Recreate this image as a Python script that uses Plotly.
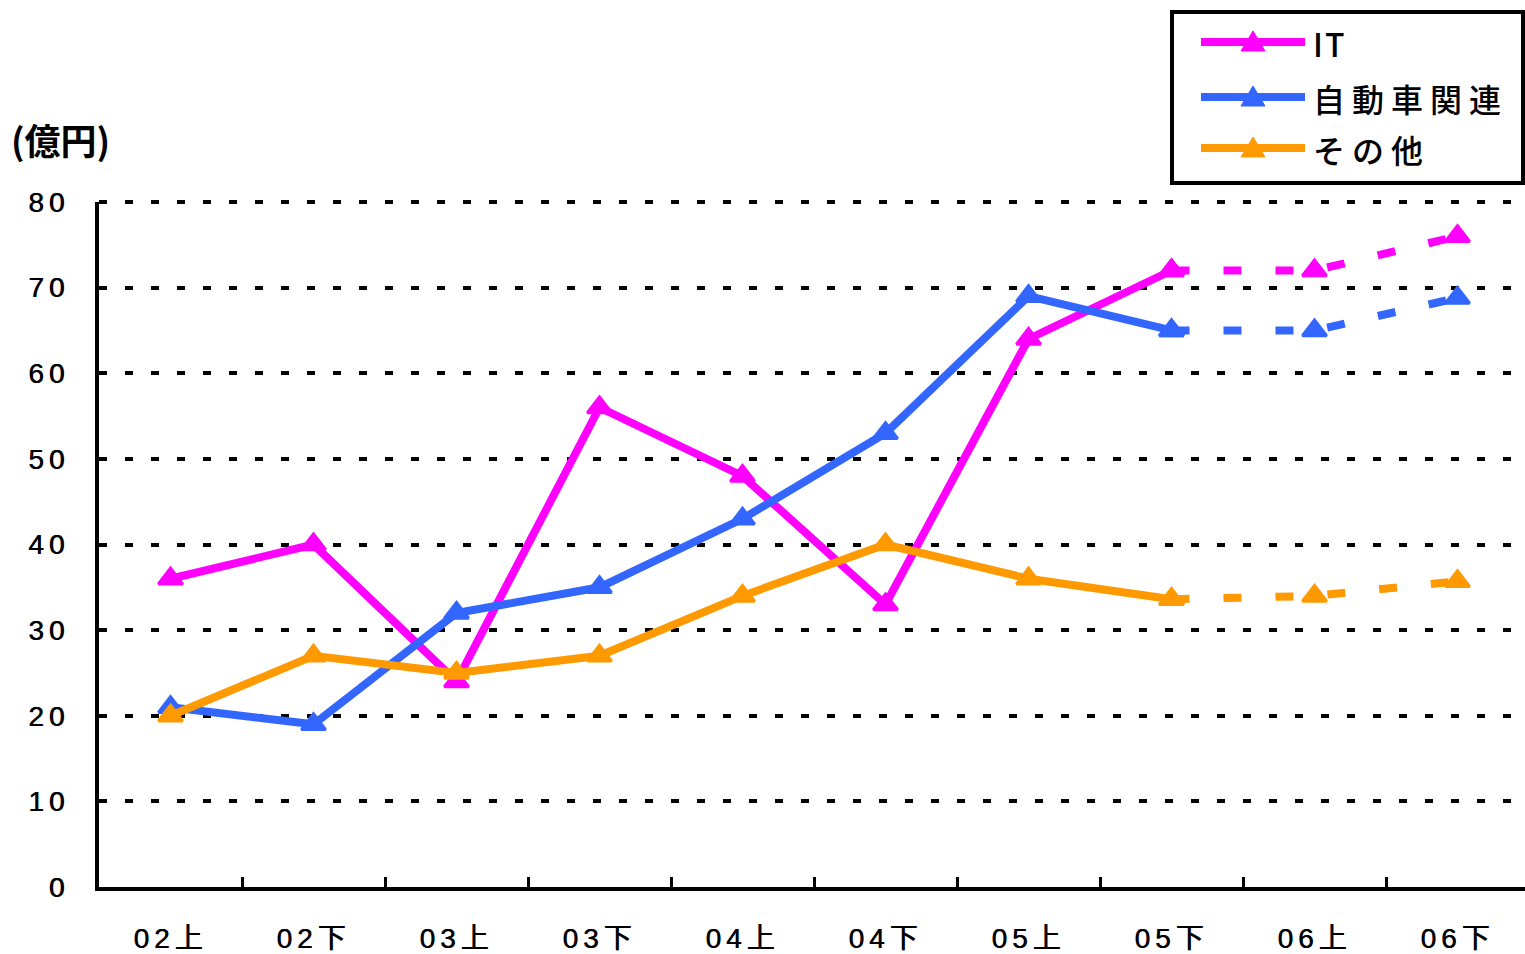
import plotly.graph_objects as go

# ---- data ----
categories = ["02上", "02下", "03上", "03下", "04上", "04下", "05上", "05下", "06上", "06下"]
it_values = [36, 40, 24, 56, 48, 33, 64, 72, 72, 76]
auto_values = [21, 19, 32, 35, 43, 53, 69, 65, 65, 68.8]
other_values = [20, 27, 25, 27, 34, 40, 36, 33.6, 34, 35.7]
series_names = ["IT", "自動車関連", "その他"]
y_ticks = [0, 10, 20, 30, 40, 50, 60, 70, 80]
y_unit = "(億円)"
last_actual = 7  # index of 05下: solid up to here, dashed (forecast) afterwards

# ---- style ----
W, H = 1525, 954
colors = ["#FF00FF", "#3366FF", "#FF9900"]
FONT = "Liberation Sans, Arial, Noto Sans CJK JP, sans-serif"
CJK = "Noto Sans CJK JP, sans-serif"
GRID_DASH = "8px,18px"
THICK = "0.6px 0 0 black"


def px(x):
    return x / W


def py(y):
    return (H - y) / H


def spaced(t, s):
    return f'<span style="letter-spacing:{s}px">{t}</span>'


fig = go.Figure()
for name, vals, col in zip(series_names, [it_values, auto_values, other_values], colors):
    mk = dict(symbol="triangle-up", size=21, color=col, line=dict(color=col, width=3))
    fig.add_trace(go.Scatter(
        x=categories[:last_actual + 1], y=vals[:last_actual + 1], mode="lines+markers",
        line=dict(color=col, width=8), name=name, showlegend=False,
        marker=mk, cliponaxis=False,
    ))
    fig.add_trace(go.Scatter(
        x=categories[last_actual:], y=vals[last_actual:], mode="lines+markers",
        line=dict(color=col, width=8, dash="18px,34px"), name=name, showlegend=False,
        marker=mk, cliponaxis=False,
    ))

# plot area pixels
left, right, top, bottom = 99, W, 202, 887
cat_w = 143.0
x_hi = (right - left) / cat_w - 0.5

fig.update_layout(
    width=W, height=H,
    margin=dict(l=0, r=0, t=0, b=0),
    paper_bgcolor="white", plot_bgcolor="white",
    font=dict(family=FONT, color="black"),
    xaxis=dict(
        type="category", categoryorder="array", categoryarray=categories,
        domain=[px(left), 1], range=[-0.5, x_hi],
        tickvals=categories, ticktext=[spaced(c, 5) for c in categories],
        showline=True, linecolor="black", linewidth=4,
        ticks="inside", tickson="boundaries", ticklen=10, tickwidth=3, tickcolor="black",
        showgrid=False, zeroline=False, automargin=False,
        tickfont=dict(size=28, family=FONT, color="black", shadow=THICK),
        ticklabelstandoff=23,
    ),
    yaxis=dict(
        domain=[py(bottom), py(top)], range=[y_ticks[0], y_ticks[-1]],
        tickvals=y_ticks, ticktext=[spaced(str(v), 5) for v in y_ticks],
        showline=True, linecolor="black", linewidth=4,
        ticks="", showgrid=True, gridcolor="black", gridwidth=4, griddash=GRID_DASH,
        zeroline=False, automargin=False,
        tickfont=dict(size=28, family=FONT, color="black", shadow=THICK),
        ticklabelstandoff=20,
    ),
)

# top gridline (value-axis maximum = top of the plot area), which plotly clips at the range end
fig.add_shape(type="line", xref="paper", yref="paper", x0=px(left), x1=1, y0=py(top), y1=py(top),
              line=dict(color="black", width=4, dash=GRID_DASH), layer="below")

# unit label
fig.add_annotation(
    xref="paper", yref="paper", x=px(9), y=py(139), xanchor="left", yanchor="middle",
    text="<b>" + y_unit + "</b>", showarrow=False,
    font=dict(size=36, family=CJK, color="black"),
)

# manual legend
box = dict(x0=1172, x1=1523, y0=12, y1=183)
fig.add_shape(type="rect", xref="paper", yref="paper",
              x0=px(box["x0"]), x1=px(box["x1"]), y0=py(box["y0"]), y1=py(box["y1"]),
              line=dict(color="black", width=4), fillcolor="white", layer="above")
rows = [42, 97, 148]
spacing = [2, 7, 7]
for name, col, ry, sp in zip(series_names, colors, rows, spacing):
    fig.add_shape(type="line", xref="paper", yref="paper",
                  x0=px(1201), x1=px(1305), y0=py(ry), y1=py(ry),
                  line=dict(color=col, width=8), layer="above")
    cx = 1253
    path = (f"M{px(cx - 12)},{py(ry + 9)} L{px(cx + 12)},{py(ry + 9)} "
            f"L{px(cx)},{py(ry - 11)} Z")
    fig.add_shape(type="path", xref="paper", yref="paper", path=path,
                  fillcolor=col, line=dict(color=col, width=1), layer="above")
    fig.add_annotation(
        xref="paper", yref="paper", x=px(1311), y=py(ry + 1), xanchor="left", yanchor="middle",
        text=spaced(name, sp), showarrow=False,
        font=dict(size=32, family=CJK, color="black", weight=500),
    )

fig.write_html("out.html", config={"displayModeBar": False},
               post_script="document.body.style.margin='0px';")
